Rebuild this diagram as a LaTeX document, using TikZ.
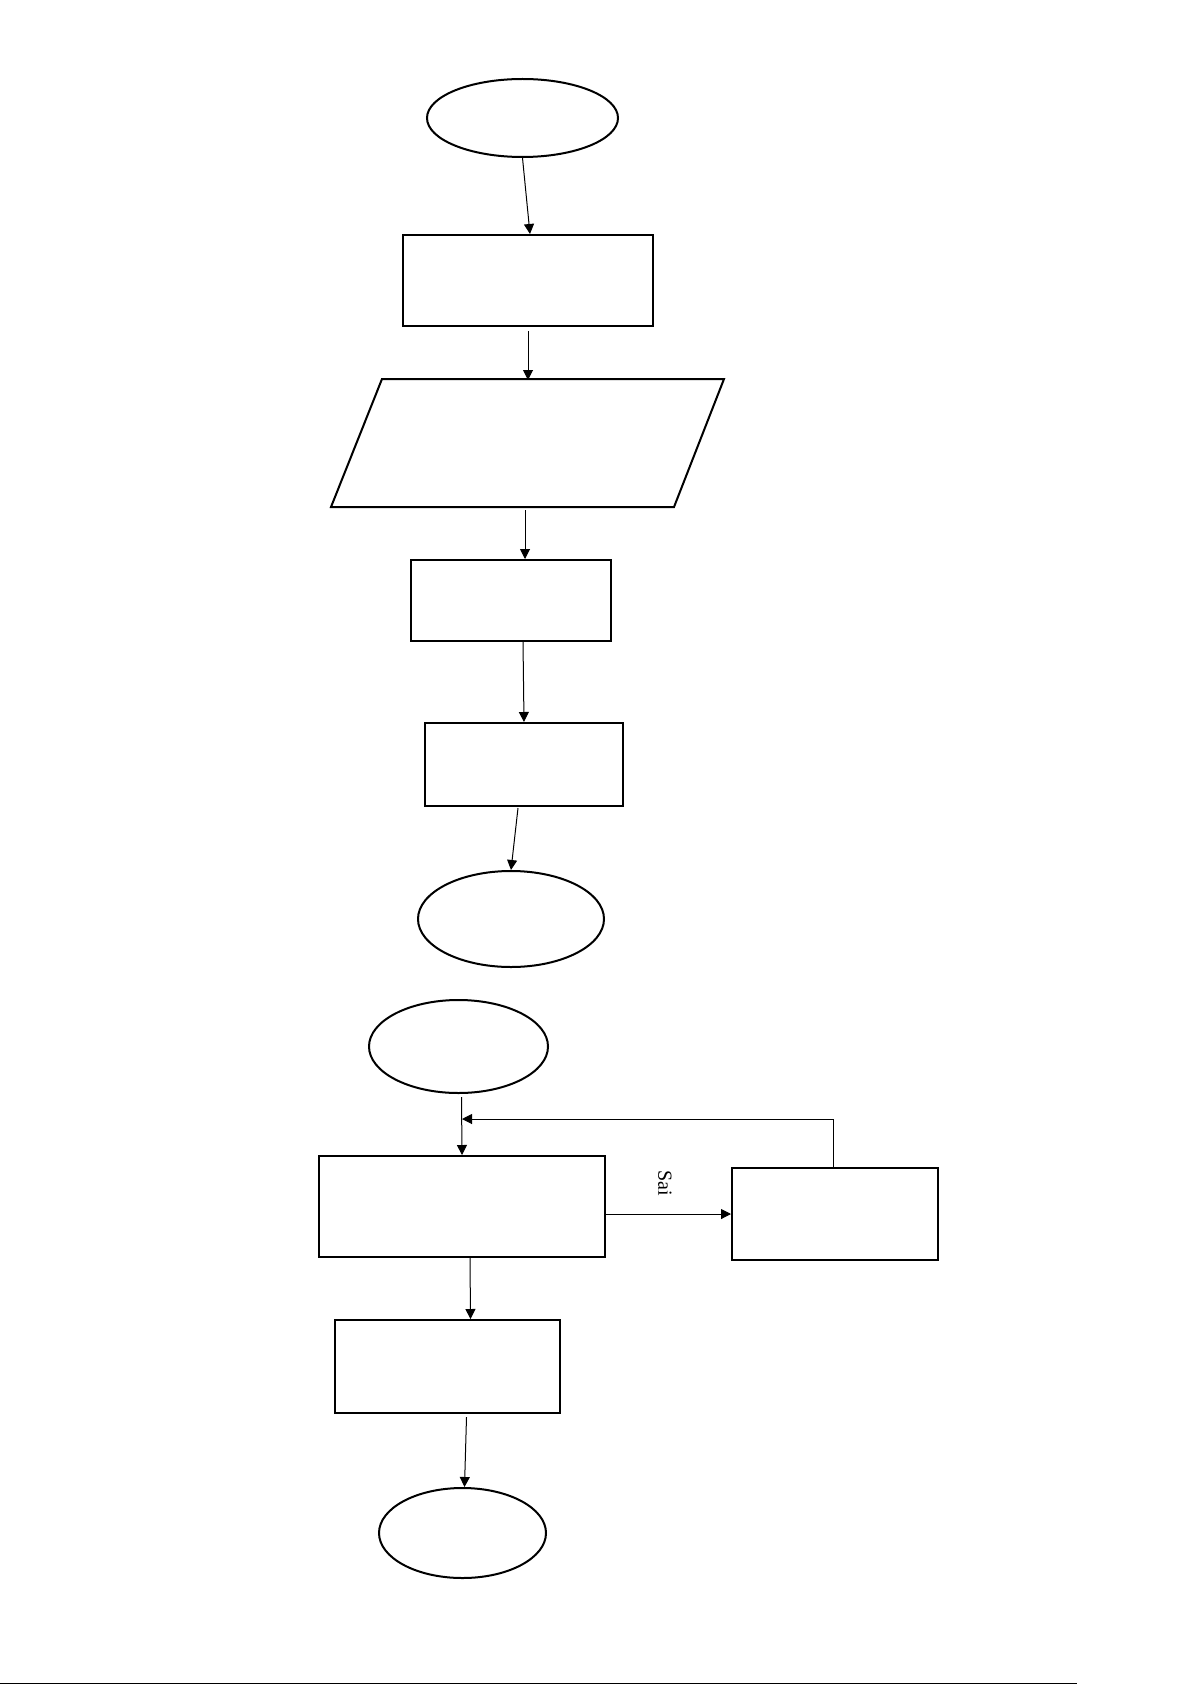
\documentclass[tikz,border=0pt]{standalone}
\usepackage{fontspec}
\setmainfont{Liberation Serif}
\usetikzlibrary{positioning}
\usetikzlibrary{arrows.meta}
\usetikzlibrary{shapes.geometric}

\begin{document}
\begin{tikzpicture}[x=1pt,y=-1pt,
  term/.style={draw,ellipse,line width=2pt,inner sep=0pt},
  box/.style={draw,rectangle,line width=2pt,inner sep=0pt},
  flow/.style={-{Triangle[length=10pt,width=10pt]},line width=1pt}]

\useasboundingbox (0,0) rectangle (1192,1685);

% first chart
\node[term,minimum width=191pt,minimum height=78pt] (start1) at (522.5,118) {};
\node[box,minimum width=250pt,minimum height=91pt] (init) at (528,280.5) {};
\node[inner sep=0pt,outer sep=1pt,minimum width=341pt,minimum height=124pt] (input) at (527.5,443) {};
\draw[line width=2pt] ([xshift=-25pt,yshift=-1pt]input.south west) -- ([xshift=26pt,yshift=1pt]input.north west)
  -- ([xshift=25pt,yshift=1pt]input.north east) -- ([xshift=-25pt,yshift=-1pt]input.south east) -- cycle;
\node[box,minimum width=200pt,minimum height=81pt] (calc) at (511,600.5) {};
\node[box,minimum width=198pt,minimum height=83pt] (output) at (524,764.5) {};
\node[term,minimum width=186pt,minimum height=96pt] (end1) at (511,919) {};

\draw[flow] (start1.south) -- ([xshift=2pt]init.north);
\draw[flow] ([yshift=-4pt]init.south) -- (init.south |- input.north);
\draw[flow] ([xshift=14pt,yshift=-4pt]calc.north |- input.south) -- ([xshift=14pt]calc.north);
\draw[flow] ([xshift=12pt]calc.south) -- (output.north);
\draw[flow] ([xshift=-6pt,yshift=-1pt]output.south) -- (end1.north);

% second chart
\node[term,minimum width=179pt,minimum height=93pt] (start2) at (458.5,1046.5) {};
\node[box,minimum width=286pt,minimum height=101pt] (test) at (462,1206.5) {};
\node[box,minimum width=206pt,minimum height=92pt] (step2) at (835,1214) {};
\node[box,minimum width=225pt,minimum height=93pt] (result) at (447.5,1366.5) {};
\node[term,minimum width=167pt,minimum height=90pt] (end2) at (462.5,1533) {};
\coordinate (back) at (462,1119);

\draw[flow] ([xshift=3pt,yshift=-3pt]start2.south) -- (test.north);
\draw[flow] (test.east |- step2.west) -- (step2.west);
\node[rotate=-90,font=\fontsize{20}{24}\selectfont] (sai) at (665,1183) {Sai};
\draw[flow] ([xshift=-2pt]step2.north) |- (back);
\draw[flow] ([xshift=8pt]test.south) -- ([xshift=23pt]result.north);
\draw[flow] ([xshift=19pt,yshift=-3pt]result.south) -- ([xshift=2pt]end2.north);

% page line
\draw[line width=1.5pt] (0,1683.5) -- (1077,1683.5);

\end{tikzpicture}
\end{document}
